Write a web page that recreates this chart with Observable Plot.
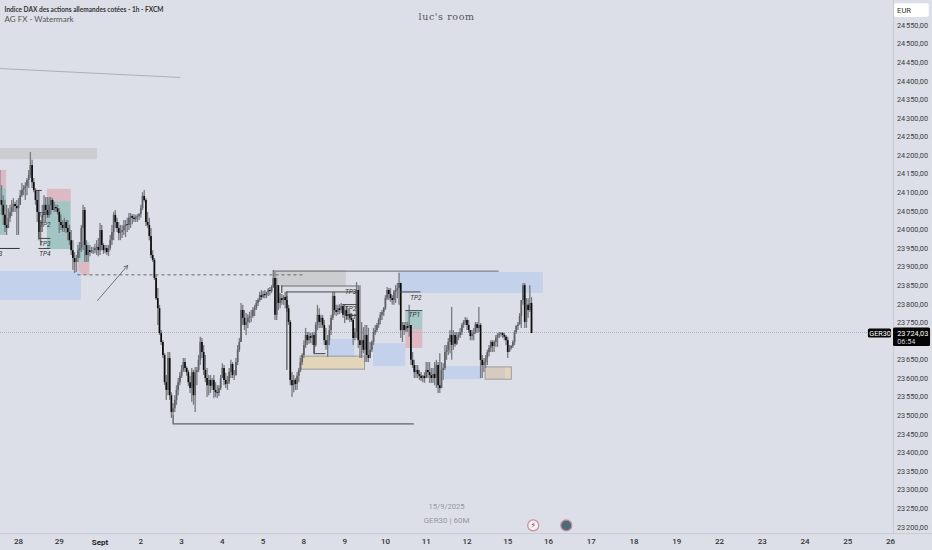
<!DOCTYPE html>
<html>
<head>
<meta charset="utf-8">
<script src="https://cdn.jsdelivr.net/npm/d3@7"></script>
<script src="https://cdn.jsdelivr.net/npm/@observablehq/plot@0.6"></script>
<style>html,body{margin:0;padding:0;background:#dcdfe8;overflow:hidden}svg{display:block}</style>
</head>
<body>
<div id="chart"></div>
<script>
// Hourly bars, hour 0 = 28 Aug; first bar is hour -11
const firstHour = -11;
const high = [
24160,24119,24092,24079,24066,24057,24066,24079,24084,24074,
24079,24084,24106,24125,24119,24127,24138,24160,24208,24187,
24138,24111,24106,24047,24025,24066,24092,24087,24087,24087,
24087,24084,24074,24066,24066,24057,24039,24025,24031,24025,
24025,24012,23998,23971,23939,23931,23958,23966,24012,24066,
24060,23971,23958,23958,23953,23953,23961,23971,23977,24017,
24012,23963,23958,23958,23958,23985,24012,24047,24052,24031,
24020,24012,24012,24025,24025,24031,24044,24044,24041,24041,
24039,24041,24044,24066,24100,24106,24084,24047,24031,24004,
23944,23923,23877,23842,23797,23729,23702,23667,23608,23670,
23670,23562,23533,23554,23581,23600,23616,23635,23654,23654,
23632,23622,23606,23627,23622,23630,23630,23662,23711,23708,
23689,23662,23627,23608,23608,23600,23608,23589,23581,23581,
23608,23640,23635,23614,23606,23627,23649,23643,23622,23654,
23689,23708,23802,23797,23783,23775,23772,23778,23783,23791,
23797,23810,23815,23832,23837,23834,23837,23832,23842,23845,
23850,23891,23885,23869,23850,23829,23826,23823,23832,23821,
23797,23756,23616,23608,23600,23616,23627,23654,23667,23702,
23735,23724,23724,23721,23724,23724,23751,23797,23788,23770,
23770,23756,23735,23716,23743,23770,23832,23832,23797,23797,
23799,23802,23799,23797,23794,23788,23780,23775,23762,23735,
23858,23850,23850,23751,23737,23743,23743,23735,23697,23702,
23735,23743,23748,23762,23778,23783,23791,23823,23845,23842,
23842,23823,23837,23850,23856,23883,23856,23751,23751,23751,
23751,23797,23743,23670,23649,23635,23635,23622,23616,23608,
23616,23643,23643,23643,23627,23627,23643,23649,23643,23667,
23643,23640,23689,23689,23708,23729,23791,23729,23724,23724,
23724,23735,23748,23756,23764,23762,23756,23729,23729,23735,
23751,23751,23791,23748,23662,23654,23662,23676,23689,23702,
23702,23702,23716,23721,23724,23724,23724,23721,23716,23711,
23689,23689,23702,23729,23743,23751,23775,23810,23856,23856,
23815,23815,23850,23818];
const low = [
24066,24039,24012,23993,23985,24004,24020,24036,24047,24047,
23985,23985,24066,24087,24092,24079,24092,24111,24138,24111,
24100,24066,24020,23971,23958,23993,24020,24020,24031,24031,
24039,24052,24047,24047,24039,23990,23998,23993,23993,23990,
23971,23958,23931,23891,23883,23885,23912,23923,23939,23944,
23912,23912,23912,23928,23936,23934,23936,23931,23928,23931,
23944,23934,23936,23931,23928,23944,23958,23971,24004,23993,
23971,23971,23977,23985,23979,23993,23998,24004,24014,24020,
24020,24020,24025,24031,24052,24074,24009,24004,23971,23923,
23912,23864,23810,23743,23716,23689,23654,23581,23541,23554,
23541,23493,23501,23509,23528,23554,23581,23600,23616,23616,
23606,23579,23560,23536,23528,23509,23581,23616,23635,23654,
23608,23589,23549,23554,23560,23568,23546,23549,23546,23552,
23568,23600,23581,23573,23568,23584,23600,23600,23595,23606,
23635,23670,23697,23743,23729,23716,23735,23748,23751,23762,
23767,23783,23794,23805,23810,23815,23815,23815,23821,23823,
23829,23842,23756,23756,23783,23788,23797,23797,23788,23778,
23743,23581,23549,23562,23568,23568,23589,23616,23635,23654,
23681,23689,23692,23694,23689,23667,23684,23729,23735,23735,
23735,23689,23676,23657,23689,23716,23756,23770,23767,23770,
23772,23775,23762,23748,23756,23756,23751,23751,23689,23702,
23708,23681,23654,23654,23667,23643,23643,23643,23662,23670,
23689,23716,23724,23735,23745,23756,23767,23783,23810,23810,
23805,23797,23797,23802,23815,23797,23708,23697,23716,23724,
23724,23711,23635,23627,23600,23600,23600,23595,23592,23589,
23587,23600,23600,23587,23587,23587,23581,23573,23560,23560,
23573,23595,23622,23649,23662,23667,23649,23676,23684,23689,
23702,23708,23716,23735,23743,23729,23721,23702,23702,23702,
23719,23721,23724,23600,23600,23616,23627,23635,23659,23670,
23670,23670,23684,23684,23708,23711,23708,23702,23689,23654,
23670,23676,23681,23689,23719,23729,23743,23735,23797,23735,
23735,23762,23778,23721];
const close = [
24079,24066,24039,24012,24004,24031,24047,24060,24068,24063,
24057,24066,24092,24106,24111,24117,24133,24146,24173,24127,
24106,24079,24047,23993,24012,24039,24066,24052,24039,24066,
24079,24052,24060,24057,24047,24020,24012,24004,24020,24004,
23993,23971,23944,23923,23912,23923,23944,23950,24004,24052,
23958,23931,23944,23939,23944,23944,23950,23953,23944,23998,
23958,23944,23950,23939,23950,23971,23993,24039,24020,24004,
23990,23993,23998,24009,24014,24012,24031,24036,24031,24028,
24033,24036,24041,24057,24090,24079,24020,24012,23982,23931,
23918,23869,23815,23788,23721,23697,23662,23589,23568,23654,
23554,23509,23519,23541,23568,23589,23606,23622,23643,23627,
23616,23589,23573,23616,23554,23616,23622,23649,23697,23670,
23622,23600,23581,23595,23579,23595,23568,23562,23560,23573,
23600,23627,23595,23584,23589,23616,23638,23608,23608,23643,
23676,23697,23783,23762,23743,23751,23762,23767,23767,23783,
23788,23802,23810,23823,23818,23826,23823,23832,23837,23834,
23845,23869,23770,23850,23802,23815,23810,23818,23810,23788,
23751,23595,23581,23595,23584,23606,23622,23643,23662,23689,
23716,23702,23713,23708,23716,23689,23743,23770,23751,23762,
23743,23702,23689,23702,23729,23762,23821,23783,23778,23788,
23783,23794,23770,23783,23767,23772,23762,23756,23708,23724,
23837,23702,23689,23702,23676,23716,23662,23654,23676,23697,
23724,23729,23743,23756,23770,23778,23788,23815,23837,23826,
23815,23810,23832,23837,23842,23856,23729,23743,23729,23740,
23735,23743,23649,23635,23616,23622,23611,23606,23600,23606,
23600,23622,23616,23608,23600,23611,23600,23635,23581,23573,
23622,23627,23670,23676,23697,23716,23689,23716,23692,23711,
23716,23724,23743,23751,23756,23743,23729,23713,23719,23724,
23745,23735,23743,23649,23635,23643,23654,23670,23681,23697,
23686,23697,23708,23716,23719,23721,23716,23711,23702,23670,
23681,23686,23697,23724,23740,23745,23767,23810,23850,23751,
23797,23783,23802,23721];

// Shaded zones
const zoneFrom = [-11,-11,17,17,35,35,-11,-11,150,166,182,209,224,228,228,251,275,287];
const zoneTo   = [46.5,-7,31,31,42,42,37,-7,193,204,198,228,309,238,238,273,287,290.4];
const zoneHigh = [24219,24160,24109,24076,23966,23912,23888,24111,23891,23659,23705,23694,23885,23783,23732,23632,23630,23630];
const zoneLow  = [24189,24111,24076,23947,23912,23877,23810,23985,23848,23624,23657,23632,23829,23732,23681,23597,23597,23597];
const zoneFill = ["#cbcdd1","#dcbac4","#dcb9c3","#a2c5c4","#a9cbcb","#dcb9c3","#c3d1ea","#a2c5c4","#cbcdd1","#e3d5b9","#c3d1ea","#c3d1ea","#c3d1ea","#a9c8c8","#dcb9c3","#c3d1ea","#d6cbc0","#e3d5b9"];

// Level lines
const lineFrom = [150,91,155,158,174,191,194,225,228,12,12,10,-11];
const lineTo   = [283,233,200,200,181,200,200,237,238,19,19,14,1];
const linePrice= [23889,23478,23849,23833,23667,23799,23770,23833,23783,23977,23950,24106,23950];
const lineInk  = ["#6b6c70","#444","#6b6c70","#444","#444","#444","#444","#444","#456","#444","#444","#444","#333"];
const stemHour = [91,155,158,174,12];
const stemHigh = [23501,23849,23833,23716,24106];
const stemLow  = [23478,23829,23622,23667,23977];

const tpLabels = ["TP1","TP2","TP3","TP4","3","TP3","TP2","TP1","TP2","TP1"];
const tpHour   = [15,15.5,15.5,15.5,-10.6,195.5,195.5,195.5,234,233];
const tpPrice  = [24041,24014,23963,23936,23936,23834,23788,23767,23818,23770];

const dayLabels = ["28","29","Sept","2","3","4","5","8","9","10","11","12","15","16","17","18","19","22","23","24","25","26"];
const dayHours = dayLabels.map((_, i) => i * 24);
const priceTicks = [24550,24500,24450,24400,24350,24300,24250,24200,24150,24100,24050,24000,23950,23900,23850,23800,23750,23650,23600,23550,23500,23450,23400,23350,23300,23250,23200];

const titleText = "Indice DAX des actions allemandes cotées - 1h - FXCM";

const fmt = v => String(v).slice(0, 2) + "\u202f" + String(v).slice(2) + ",00";
const idx = d3.range(high.length);
const hr = i => firstHour + i;
const opn = i => (i === 0 ? close[0] : close[i - 1]);
const zones = d3.range(zoneFrom.length);
const lines = d3.range(lineFrom.length);
const stems = d3.range(stemHour.length);
const tps = d3.range(tpLabels.length);
const ff = "Roboto, sans-serif";
const narrow = "'Liberation Sans Narrow', Lato, sans-serif";

const chart = Plot.plot({
  width: 932, height: 550,
  marginTop: 0, marginLeft: 0, marginRight: 39, marginBottom: 17,
  style: {background: "#dcdfe8", fontFamily: ff},
  x: {type: "linear", domain: [-10.6, 312, 504, 527.6], range: [0, 548, 890, 932]},
  y: {type: "linear", domain: [24617, 23137.5], range: [0, 550]},
  marks: [
    Plot.ruleX([505.7], {stroke: "#c8cbd4", strokeWidth: 1}),
    Plot.ruleY([23183], {x1: -10.6, x2: 527.6, stroke: "#c8cbd4", strokeWidth: 1}),
    Plot.rect(zones, {x1: i => zoneFrom[i], x2: i => zoneTo[i], y1: i => zoneHigh[i], y2: i => zoneLow[i], fill: i => zoneFill[i]}),
    Plot.rect([9], {x1: 166, x2: 204, y1: 23659, y2: 23624, fill: "none", stroke: "#9a9ca0", strokeWidth: 1}),
    Plot.rect([16], {x1: 275, x2: 290.4, y1: 23630, y2: 23597, fill: "none", stroke: "#9a9ca0", strokeWidth: 1}),
    Plot.ruleY([23724], {x1: -10.6, x2: 491.6, stroke: "#aeb0b6", strokeWidth: 1, strokeDasharray: "1,1"}),
    Plot.line([[-11, 24434], [95, 24410]], {x: "0", y: "1", stroke: "#aeb0b8", strokeWidth: 1}),
    Plot.ruleY([23879], {x1: 35, x2: 168, stroke: "#666", strokeWidth: 1, strokeDasharray: "3,3"}),
    Plot.arrow([[46.5, 23810, 64.2, 23904]], {x1: "0", y1: "1", x2: "2", y2: "3", stroke: "#555", strokeWidth: 0.8, headLength: 7, bend: 0}),
    // candles
    Plot.ruleX(idx, {x: hr, y1: i => low[i], y2: i => high[i], stroke: "#777a80", strokeWidth: 1.3}),
    Plot.ruleX(idx, {x: hr, y1: opn, y2: i => close[i], stroke: i => (close[i] < opn(i) ? "#0c0c0c" : "#5f6166"), strokeWidth: 1.7}),
    // levels
    Plot.ruleY(lines, {x1: i => lineFrom[i], x2: i => lineTo[i], y: i => linePrice[i], stroke: i => lineInk[i], strokeWidth: 1}),
    Plot.ruleX(stems, {x: i => stemHour[i], y1: i => stemHigh[i], y2: i => stemLow[i], stroke: "#333", strokeWidth: 1}),
    Plot.text(tps, {x: i => tpHour[i], y: i => tpPrice[i], text: i => tpLabels[i], fontSize: 6.5, fontStyle: "italic", fill: "#333", textAnchor: i => (tpLabels[i] === "3" ? "start" : "middle")}),
    // axes
    Plot.axisY({anchor: "right", ticks: priceTicks, tickSize: 0, tickPadding: 3.5, tickFormat: fmt, label: null, fontSize: 7.3, color: "#3a3a3a", textAnchor: "start"}),
    Plot.axisX({anchor: "bottom", ticks: dayHours.filter(h => h !== 48), tickSize: 0, tickPadding: 5, tickFormat: h => dayLabels[h / 24], label: null, fontSize: 8, fontWeight: 500, color: "#333"}),
    Plot.text(["Sept"], {x: 48, y: 23159, fontSize: 8, fontWeight: 700, fill: "#222"}),
    // header text
    Plot.text([titleText], {x: -10.6, y: 24592, dx: 4, textAnchor: "start", fontSize: 7.8, fontWeight: 700, fontFamily: narrow, fill: "#333"}),
    Plot.text(["AG FX - Watermark"], {x: -10.6, y: 24565, dx: 4, textAnchor: "start", fontSize: 8, fontFamily: narrow, fill: "#555"}),
    Plot.text(["luc's room"], {x: 252, y: 24574, fontSize: 9.5, fontFamily: "DejaVu Serif, serif", fill: "#555"}),
    Plot.text(["15/9/2025"], {x: 252, y: 23256, fontSize: 7.6, fill: "#96989f"}),
    Plot.text(["GER30 | 60M"], {x: 252, y: 23218, fontSize: 8, fill: "#96989f"}),
    // price tags
    Plot.rect([0], {x1: 506.3, x2: 525.8, y1: 24608, y2: 24571, fill: "white", rx: 2}),
    Plot.text(["EUR"], {x: 507.7, y: 24590, textAnchor: "start", fontSize: 7.6, fill: "#333"}),
    Plot.rect([0], {x1: 491.6, x2: 504.6, y1: 23733, y2: 23709, fill: "#050505", rx: 1.5}),
    Plot.text(["GER30"], {x: 498.1, y: 23721, fontSize: 7.2, fill: "white"}),
    Plot.rect([0], {x1: 505.7, x2: 526.5, y1: 23736, y2: 23686, fill: "#050505", rx: 1.5}),
    Plot.text(["23\u202f724,03"], {x: 507.8, y: 23722, textAnchor: "start", fontSize: 7.3, fill: "white"}),
    Plot.text(["06:54"], {x: 507.8, y: 23699, textAnchor: "start", fontSize: 7.3, fill: "#cfd1d6"}),
    // icons
    Plot.dot([0], {x: 303, y: 23205, r: 5.5, fill: "#f4f1f2", stroke: "#c58f9c", strokeWidth: 1.2}),
    Plot.text(["\u26A1"], {x: 303, y: 23205, fontSize: 8, fill: "#8a3a4a", fontFamily: "DejaVu Sans"}),
    Plot.dot([0], {x: 322, y: 23205, r: 5.5, fill: "#4d6b78", stroke: "#c58f9c", strokeWidth: 1.2})
  ]
});
// Fit the header to its measured width in the reference
chart.querySelectorAll("text").forEach(t => {
  if (t.textContent === titleText) { t.setAttribute("textLength", 159); t.setAttribute("lengthAdjust", "spacingAndGlyphs"); }
  if (t.textContent === "luc's room") { t.style.letterSpacing = "0.6px"; }
});
document.getElementById("chart").append(chart);
</script>
</body>
</html>
